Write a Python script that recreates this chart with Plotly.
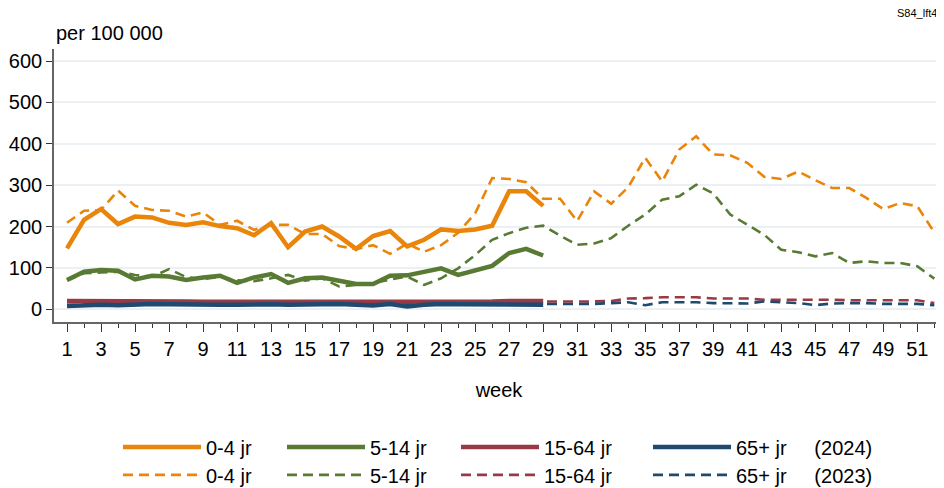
import plotly.graph_objects as go

weeks_2024 = list(range(1, 30))
weeks_2023 = list(range(1, 53))

# 2024 (solid)
y0_4_2024 = [147, 216, 242, 206, 224, 222, 209, 204, 210, 201, 196, 179, 208, 150, 188,
             200, 176, 146, 177, 189, 152, 168, 193, 189, 193, 202, 285, 285, 250]
y5_14_2024 = [71, 91, 95, 93, 72, 81, 79, 71, 77, 81, 64, 77, 85, 64, 75,
              77, 69, 61, 61, 81, 82, 91, 99, 83, 95, 105, 136, 146, 130]
y15_64_2024 = [20, 20, 21, 21, 21, 20, 19, 19, 18, 18, 18, 18, 18, 18, 18,
               19, 18, 17, 17, 17, 18, 18, 18, 18, 19, 19, 20, 21, 20]
y65_2024 = [8, 10, 11, 10, 12, 13, 12, 11, 12, 11, 11, 12, 12, 11, 12,
            12, 13, 11, 9, 13, 7, 11, 13, 12, 12, 13, 13, 12, 11]

# 2023 (dashed)
y0_4_2023 = [209, 238, 240, 287, 250, 240, 238, 224, 234, 204, 214, 192, 204, 204, 182,
             182, 153, 145, 155, 134, 159, 139, 155, 185, 232, 317, 315, 307, 267, 267,
             213, 285, 255, 295, 366, 309, 386, 418, 374, 372, 354, 320, 315, 333, 312,
             293, 293, 269, 242, 257, 249, 186]
y5_14_2023 = [70, 87, 89, 91, 83, 79, 97, 78, 73, 78, 70, 68, 75, 83, 69,
              75, 55, 59, 63, 72, 79, 59, 75, 99, 131, 168, 184, 197, 202, 178,
              156, 159, 172, 202, 229, 265, 273, 301, 280, 229, 205, 180, 144, 138, 128,
              136, 112, 116, 112, 112, 104, 74]
y15_64_2023 = [18, 19, 19, 20, 20, 19, 19, 18, 18, 18, 18, 18, 18, 18, 18,
               18, 18, 18, 18, 18, 18, 18, 18, 18, 18, 19, 19, 19, 19, 19,
               19, 19, 20, 26, 27, 29, 29, 29, 26, 26, 26, 23, 23, 24, 23,
               23, 22, 22, 22, 22, 22, 15]
y65_2023 = [10, 11, 11, 12, 12, 12, 12, 12, 12, 12, 12, 12, 12, 12, 12,
            12, 12, 12, 12, 12, 12, 12, 12, 12, 13, 13, 13, 13, 13, 13,
            13, 13, 15, 17, 10, 17, 17, 17, 15, 14, 14, 19, 17, 15, 10,
            14, 15, 15, 13, 13, 13, 10]

group_names = ["0-4 jr", "5-14 jr", "15-64 jr", "65+ jr"]
colors = ["#E8850A", "#587A33", "#973A45", "#1E4A70"]
legend_widths = [71, 81, 99, 160]

FONT = "Liberation Sans, Arial, sans-serif"
NB = "\u00a0" * 5

fig = go.Figure()

series_2023 = [y0_4_2023, y5_14_2023, y15_64_2023, y65_2023]
series_2024 = [y0_4_2024, y5_14_2024, y15_64_2024, y65_2024]

# dashed 2023 first (drawn under)
for i, (name, col, ys) in enumerate(zip(group_names, colors, series_2023)):
    label = name + (NB + "(2023)" if i == 3 else "")
    fig.add_trace(go.Scatter(x=weeks_2023, y=ys, mode="lines", name=label,
                             line=dict(color=col, width=2.6, dash="10px,6px"),
                             legend="legend2", legendwidth=legend_widths[i],
                             hoverinfo="skip"))
for i, (name, col, ys) in enumerate(zip(group_names, colors, series_2024)):
    label = name + (NB + "(2024)" if i == 3 else "")
    fig.add_trace(go.Scatter(x=weeks_2024, y=ys, mode="lines", name=label,
                             line=dict(color=col, width=4.5),
                             legend="legend", legendwidth=legend_widths[i],
                             hoverinfo="skip"))

# page is offset by the 8px body margin; compensate in margins
fig.update_layout(
    width=944, height=488,
    margin=dict(l=46, r=8, t=41, b=174, autoexpand=False),
    paper_bgcolor="white", plot_bgcolor="white",
    font=dict(family=FONT, color="black", size=20),
    xaxis=dict(range=[0.235, 52.57], tickmode="linear", tick0=1, dtick=2,
               ticks="outside", ticklen=8, tickwidth=1.3, tickcolor="#333",
               showline=True, linecolor="#666", linewidth=1.6,
               showgrid=False, zeroline=False,
               tickfont=dict(size=20),
               minor=dict(dtick=1, tick0=1, ticks="outside", ticklen=4,
                          tickwidth=1.2, tickcolor="#333", showgrid=False),
               title=dict(text="week", font=dict(size=20), standoff=24)),
    yaxis=dict(range=[-30.7, 629], tickmode="linear", tick0=0, dtick=100,
               ticks="outside", ticklen=6, tickwidth=1.3, tickcolor="#333",
               showline=True, linecolor="#666", linewidth=1.6,
               showgrid=True, gridcolor="#EAF0F3", gridwidth=2,
               zeroline=False, tickfont=dict(size=20)),
    legend=dict(orientation="h", x=0.0719, xanchor="left", y=-0.458, yanchor="middle",
                font=dict(size=20), itemwidth=78, traceorder="normal",
                bgcolor="rgba(0,0,0,0)", tracegroupgap=0),
    legend2=dict(orientation="h", x=0.0719, xanchor="left", y=-0.560, yanchor="middle",
                 font=dict(size=20), itemwidth=78, traceorder="normal",
                 bgcolor="rgba(0,0,0,0)", tracegroupgap=0),
    showlegend=True,
    annotations=[
        dict(text="per 100 000", xref="paper", yref="paper", x=0.0, y=1,
             xanchor="left", yanchor="bottom", yshift=3, showarrow=False,
             font=dict(size=20)),
        dict(text="S84_lft4", xref="paper", yref="paper", x=1, y=1,
             xanchor="right", yanchor="bottom", xshift=-5, yshift=28, showarrow=False,
             font=dict(size=11)),
    ],
)

fig.write_html("out.html")
